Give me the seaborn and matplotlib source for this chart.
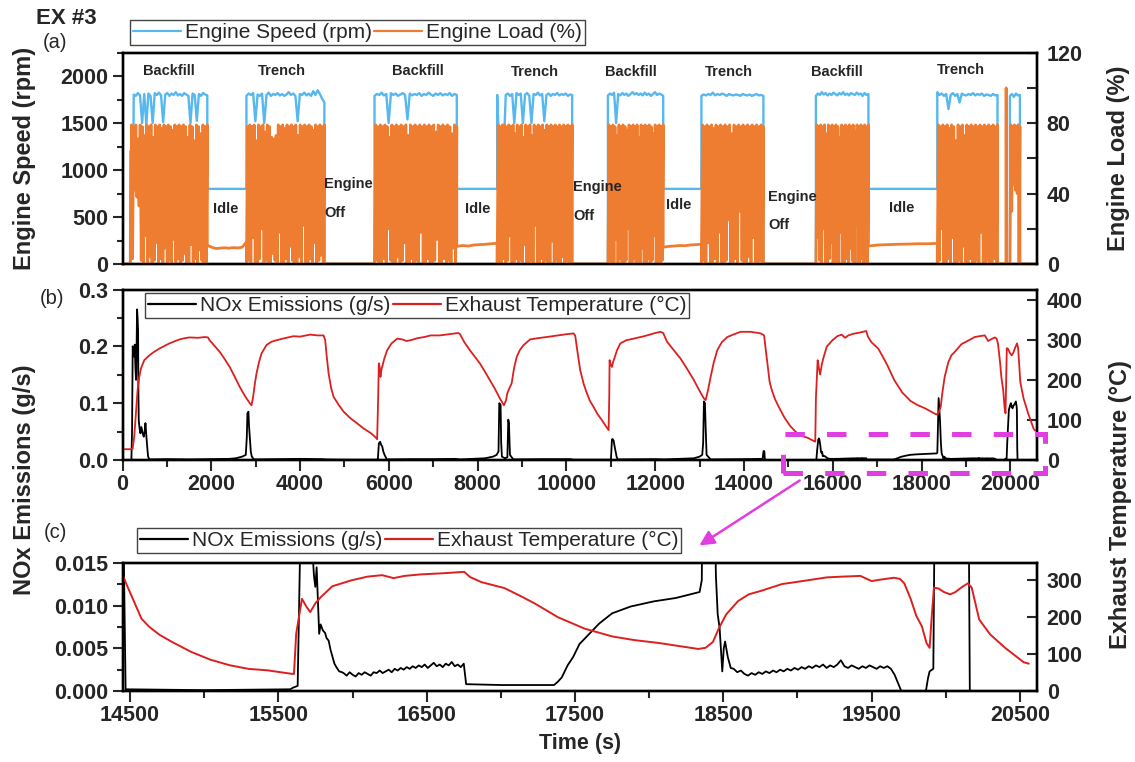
import numpy as np
import matplotlib
matplotlib.use("Agg")
import matplotlib.pyplot as plt
import seaborn as sns
from matplotlib.ticker import MultipleLocator, FormatStrFormatter, FixedLocator
from matplotlib.lines import Line2D
from matplotlib.patches import Rectangle, FancyArrowPatch

# ---------------- data: panel (a) engine speed / load ----------------
work_start = [178, 2792, 5677, 8440, 10935, 13040, 15620, 18354, 19990]
work_end = [1910, 4547, 7530, 10129, 12180, 14437, 16803, 19710, 20215]
speed_start = [253, 2792, 5677, 8440, 10935, 13040, 15620, 18354, 19990]
startup_t = [170, 178, 245]
startup_rpm = [0, 1200, 1200]

speed_B1 = [1805, 1790, 1820, 1795, 1500, 1810, 1485, 1815, 1790, 1500, 1820, 1800,
            1825, 1795, 1510, 1805, 1820, 1790, 1815, 1800, 1830, 1795, 1810, 1790,
            1820, 1805, 1790, 1500, 1815, 1800, 1525, 1810, 1790, 1820, 1805, 1795]
speed_T1 = [1790, 1815, 1800, 1820, 1520, 1805, 1790, 1815, 1500, 1800, 1825, 1790,
            1810, 1800, 1820, 1795, 1810, 1790, 1805, 1830, 1800, 1815, 1790, 1520,
            1810, 1800, 1825, 1795, 1815, 1790, 1840, 1800, 1850, 1810, 1760, 1720]
speed_B2 = [1790, 1810, 1800, 1825, 1795, 1810, 1500, 1820, 1800, 1815, 1790, 1805,
            1820, 1800, 1540, 1815, 1795, 1810, 1800, 1820, 1790, 1810, 1800, 1825,
            1805, 1790, 1815, 1800, 1820, 1795, 1810, 1800, 1820, 1790, 1810, 1800]
speed_T2 = [1800, 1200, 1210, 1190, 1800, 1815, 1790, 1810, 1500, 1820, 1800, 1815,
            1500, 1805, 1820, 1790, 1500, 1810, 1800, 1825, 1795, 1810, 1520, 1800,
            1815, 1790, 1810, 1800, 1820, 1795, 1810, 1800, 1815, 1790, 1805, 1800]
speed_B3 = [1795, 1815, 1800, 1825, 1500, 1810, 1795, 1820, 1800, 1815, 1790, 1810, 1830, 1805,
            1820, 1800, 1815, 1795, 1825, 1800, 1815, 1790, 1810, 1830, 1800, 1815, 1805, 1790]
speed_T3 = [1790, 1805, 1795, 1810, 1800, 1825, 1795, 1810, 1800, 1815, 1805, 1790, 1810, 1800,
            1795, 1805, 1800, 1790, 1810, 1800, 1795, 1805, 1790, 1800, 1810, 1795, 1800, 1790]
speed_B4 = [1790, 1815, 1800, 1830, 1805, 1820, 1795, 1815, 1800, 1825, 1810, 1795, 1820, 1805,
            1830, 1800, 1815, 1795, 1820, 1810, 1800, 1825, 1805, 1815, 1790, 1820, 1800, 1810]
speed_T4 = [1830, 1800, 1815, 1790, 1810, 1650, 1800, 1820, 1790, 1810, 1720, 1815, 1800, 1795,
            1810, 1800, 1820, 1795, 1810, 1800, 1815, 1790, 1805, 1800, 1790, 1810, 1795, 1800]
speed_F = [1790, 1810, 1780, 1815, 1795, 1800]

load_hi_B1 = [79, 78, 79, 71, 79, 78, 73, 79, 78, 79, 72, 79, 78, 79, 77, 79, 78, 79,
              78, 76, 79, 78, 79, 78, 79, 78, 72, 79, 78, 70, 79, 78, 74, 79, 78, 79]
load_lo_B1 = [0, 3, 42, 38, 33, 2, 0, 16, 1, 4, 0, 2, 12, 0, 3, 1, 9, 0,
              2, 0, 14, 1, 3, 0, 2, 6, 0, 1, 11, 0, 3, 0, 8, 2, 0, 1]
load_hi_T1 = [78, 79, 78, 79, 70, 79, 78, 79, 75, 79, 78, 72, 71, 73, 79, 78, 79, 77,
              79, 78, 79, 78, 79, 73, 79, 78, 79, 78, 79, 78, 76, 79, 78, 79, 78, 79]
load_lo_T1 = [0, 2, 0, 15, 1, 0, 3, 20, 0, 2, 1, 0, 6, 2, 0, 18, 1, 0,
              3, 0, 10, 2, 0, 1, 4, 0, 22, 1, 0, 3, 0, 12, 0, 2, 5, 0]
load_hi_B2 = [79, 78, 79, 78, 79, 78, 72, 79, 78, 79, 78, 79, 78, 79, 73, 79, 78, 79,
              78, 79, 78, 79, 78, 79, 78, 79, 75, 79, 78, 79, 78, 79, 78, 74, 79, 78]
load_lo_B2 = [0, 2, 0, 1, 3, 0, 20, 2, 0, 1, 4, 0, 2, 12, 0, 1, 3, 0,
              2, 0, 18, 1, 0, 3, 1, 0, 2, 14, 0, 1, 3, 0, 2, 0, 9, 0]
load_hi_T2 = [79, 78, 79, 79, 78, 79, 78, 79, 74, 79, 78, 79, 72, 79, 78, 79, 73, 79,
              78, 79, 78, 79, 76, 79, 78, 79, 78, 79, 78, 79, 78, 79, 78, 79, 78, 79]
load_lo_T2 = [0, 1, 0, 3, 0, 2, 16, 0, 1, 3, 0, 2, 0, 11, 1, 0, 2, 0,
              22, 1, 0, 3, 0, 2, 1, 0, 13, 0, 2, 0, 1, 4, 0, 2, 0, 1]
load_hi_B3 = [79, 78, 79, 78, 73, 79, 78, 79, 78, 76, 79, 78, 79, 78,
              79, 72, 79, 78, 79, 78, 79, 78, 74, 79, 78, 79, 78, 79]
load_lo_B3 = [0, 2, 0, 1, 14, 0, 3, 1, 0, 2, 20, 0, 1, 3,
              0, 2, 0, 9, 1, 0, 3, 0, 2, 16, 0, 1, 0, 2]
load_hi_T3 = [79, 78, 79, 78, 79, 77, 79, 78, 79, 78, 79, 78, 79, 74,
              79, 78, 79, 78, 79, 78, 79, 78, 79, 78, 79, 78, 79, 78]
load_lo_T3 = [0, 2, 0, 12, 1, 0, 3, 0, 18, 1, 0, 2, 25, 0,
              1, 3, 0, 30, 2, 0, 1, 4, 0, 15, 1, 0, 2, 0]
load_hi_B4 = [79, 78, 79, 78, 79, 74, 79, 78, 79, 78, 79, 78, 72, 79,
              78, 79, 78, 79, 78, 79, 75, 79, 78, 79, 78, 79, 78, 79]
load_lo_B4 = [0, 15, 2, 0, 20, 1, 0, 3, 12, 0, 2, 1, 0, 18,
              1, 0, 3, 0, 9, 2, 0, 22, 1, 0, 3, 0, 1, 0]
load_hi_T4 = [79, 78, 79, 78, 79, 77, 79, 78, 70, 79, 78, 79, 73, 79,
              78, 79, 78, 79, 78, 79, 78, 79, 78, 79, 78, 79, 78, 79]
load_lo_T4 = [0, 2, 20, 0, 1, 3, 0, 15, 1, 0, 2, 0, 10, 1,
              0, 3, 0, 1, 2, 0, 18, 1, 0, 2, 0, 1, 3, 0]
load_hi_F = [79, 78, 79, 78, 79, 78]
load_lo_F = [0, 30, 45, 42, 40, 0]

idle_rpm = 800
idle_load_1 = [10.7, 9.5, 8.8, 9.0, 9.2, 9.0, 9.3, 9.1, 9.5, 12.5]
idle_load_2 = [10.0, 10.5, 10.2, 10.8, 11.0, 11.2, 11.5, 11.8]
idle_load_3 = [9.5, 10.0, 10.2, 10.5, 10.4, 10.8, 11.0, 11.2]
idle_load_4 = [10.2, 10.8, 11.0, 11.2, 11.3, 11.5, 11.5, 11.7]
spike_t = [19900, 19905, 19912]
spike_load = [0, 100, 0]

# ---------------- data: exhaust temperature (deg C) ----------------
temp_t = [0, 226, 264, 302, 340, 377, 415, 490, 604, 700,
          830, 950, 1057, 1150, 1283, 1400, 1509, 1700, 1850, 1925,
          1962, 2080, 2189, 2300, 2415, 2530, 2642, 2760, 2868, 2906,
          2943, 2980, 3019, 3075, 3132, 3245, 3350, 3472, 3650, 3849,
          4000, 4226, 4400, 4528, 4566, 4600, 4642, 4700, 4755, 4870,
          4981, 5130, 5283, 5430, 5585, 5690, 5736, 5760, 5774, 5790,
          5811, 5830, 5849, 5900, 5962, 6060, 6189, 6300, 6400, 6491,
          6642, 6800, 6943, 7146, 7350, 7560, 7598, 7700, 7824, 7940,
          8050, 8160, 8276, 8390, 8502, 8592, 8640, 8668, 8713, 8766,
          8820, 8879, 8950, 9029, 9180, 9350, 9556, 9800, 10000, 10159,
          10197, 10250, 10310, 10390, 10461, 10530, 10611, 10700, 10799, 10880,
          10950, 10965, 10972, 10995, 11025, 11050, 11078, 11140, 11214, 11350,
          11515, 11750, 11967, 12118, 12180, 12268, 12420, 12570, 12720, 12871,
          12990, 13097, 13135, 13190, 13248, 13320, 13398, 13500, 13625, 13800,
          13925, 14151, 14377, 14440, 14454, 14474, 14513, 14577, 14629, 14700,
          14783, 14912, 15041, 15170, 15298, 15427, 15582, 15605, 15620, 15659,
          15690, 15715, 15750, 15787, 15864, 15993, 16100, 16200, 16277, 16350,
          16457, 16600, 16753, 16792, 16870, 17024, 17130, 17230, 17385, 17565,
          17750, 17900, 18068, 18200, 18330, 18380, 18430, 18470, 18520, 18600,
          18671, 18750, 18897, 19000, 19198, 19300, 19424, 19500, 19560, 19650,
          19690, 19720, 19763, 19800, 19839, 19870, 19891, 19905, 19920, 19950,
          19989, 20030, 20064, 20110, 20150, 20175, 20225, 20300, 20400, 20525,
          20560]
temp_v = [27, 27, 58, 117, 175, 208, 229, 250, 262, 270,
          279, 286, 292, 296, 302, 305, 307, 306, 308, 307,
          300, 285, 271, 253, 233, 208, 183, 160, 142, 137,
          158, 190, 217, 245, 267, 288, 296, 300, 305, 310,
          309, 314, 312, 312, 300, 260, 217, 180, 158, 138,
          121, 105, 92, 79, 68, 58, 52, 160, 242, 235,
          208, 225, 233, 255, 275, 292, 304, 302, 298, 300,
          305, 308, 312, 312, 315, 318, 316, 295, 275, 258,
          242, 222, 200, 178, 154, 137, 150, 167, 179, 192,
          230, 258, 275, 287, 302, 305, 308, 312, 315, 317,
          312, 270, 225, 190, 167, 148, 133, 115, 100, 86,
          75, 160, 250, 240, 233, 245, 254, 275, 292, 300,
          304, 310, 317, 321, 318, 296, 275, 254, 228, 200,
          175, 154, 150, 175, 208, 245, 275, 295, 308, 316,
          321, 321, 317, 313, 311, 291, 255, 196, 174, 152,
          133, 106, 85, 70, 60, 56, 47, 46, 155, 250,
          228, 214, 238, 255, 284, 300, 310, 314, 306, 312,
          316, 319, 323, 309, 295, 279, 258, 237, 200, 169,
          148, 138, 130, 122, 114, 117, 133, 170, 208, 244,
          262, 271, 290, 296, 308, 310, 312, 298, 302, 307,
          304, 292, 250, 205, 175, 130, 117, 200, 280, 278,
          268, 262, 268, 282, 292, 280, 194, 153, 117, 78,
          74]

# ---------------- data: NOx emissions (g/s) ----------------
nox_t_a = [0, 200, 215, 230, 245, 260, 276, 292, 306, 318,
           328, 340, 351, 358, 366, 385, 404, 422, 441, 460,
           479, 500, 517, 530, 539, 560, 577, 607, 1000, 1500,
           2000, 2400, 2551, 2700, 2777, 2800, 2814, 2837, 2850, 2867,
           2890, 2912, 2965, 3500, 4000, 4500, 4560, 5000, 5700, 5752,
           5775, 5790, 5805, 5830, 5850, 5875, 5903, 5955, 6500, 7000,
           7500, 7600, 8163, 8350, 8427, 8470, 8487, 8517, 8530, 8547,
           8615, 8670, 8690, 8705, 8728, 8803, 9500, 10100, 10150, 10990,
           11003, 11025, 11040, 11063, 11080, 11101, 11130, 11154, 12000, 12200,
           12871, 13000, 13059, 13080, 13097, 13120, 13135, 13157, 13248, 14000,
           14420, 14440, 14458, 14470, 15000, 15580, 15600, 15630, 15646, 15673,
           15690, 15703, 15720, 15731, 15740, 15749, 15758, 15767, 15775, 15785,
           15800, 15815, 15825, 15839, 15852, 15865, 15878, 15891, 15910, 15929]
nox_v_a = [0.0, 0.0, 0.05, 0.2, 0.19, 0.182, 0.203, 0.16, 0.141, 0.2,
           0.265, 0.25, 0.229, 0.12, 0.07, 0.055, 0.047, 0.058, 0.053, 0.045,
           0.041, 0.05, 0.065, 0.05, 0.041, 0.02, 0.006, 0.001, 0.0015, 0.001,
           0.0015, 0.002, 0.003, 0.006, 0.009, 0.04, 0.082, 0.085, 0.06, 0.041,
           0.015, 0.006, 0.001, 0.0015, 0.002, 0.0015, 0.001, 0.0005, 0.0005, 0.001,
           0.029, 0.031, 0.032, 0.026, 0.024, 0.015, 0.009, 0.001, 0.0015, 0.0015,
           0.002, 0.001, 0.003, 0.006, 0.009, 0.015, 0.1, 0.097, 0.03, 0.006,
           0.003, 0.005, 0.071, 0.065, 0.009, 0.001, 0.0015, 0.0015, 0.0005, 0.0005,
           0.002, 0.036, 0.037, 0.034, 0.026, 0.018, 0.006, 0.001, 0.0015, 0.001,
           0.003, 0.006, 0.009, 0.03, 0.103, 0.1, 0.06, 0.009, 0.001, 0.0015,
           0.002, 0.0158, 0.0155, 0.0002, 0.0001, 0.0002, 0.0004, 0.0006, 0.016, 0.036,
           0.038, 0.034, 0.025, 0.016, 0.0135, 0.0122, 0.0145, 0.0105, 0.0067, 0.0078,
           0.0071, 0.0068, 0.0062, 0.0059, 0.0048, 0.004, 0.0032, 0.0028, 0.0023, 0.0022]
nox_jit1_span = [15940, 16750]
nox_jit1 = [0.0021, 0.0018, 0.0022, 0.0019, 0.0017, 0.0021, 0.0019, 0.0022, 0.0020, 0.0018,
            0.0022, 0.0021, 0.0024, 0.0021, 0.0023, 0.0025, 0.0022, 0.0026, 0.0024, 0.0027,
            0.0025, 0.0028, 0.0026, 0.0029, 0.0027, 0.0030, 0.0028, 0.0031, 0.0027, 0.0030,
            0.0033, 0.0029, 0.0031, 0.0028, 0.0032, 0.0030, 0.0034, 0.0029, 0.0031, 0.0028,
            0.0032]
nox_t_b = [16766, 17000, 17359, 17385, 17411, 17450, 17488, 17530, 17591, 17663,
           17750, 17875, 18030, 18180, 18340, 18355, 18370, 18384, 18400, 18415,
           18435, 18450, 18462, 18475, 18485, 18493, 18503, 18512, 18530, 18550]
nox_v_b = [0.0008, 0.0007, 0.0007, 0.0011, 0.0016, 0.003, 0.004, 0.0055, 0.0066, 0.0079,
           0.0091, 0.0099, 0.0105, 0.0109, 0.0116, 0.013, 0.06, 0.109, 0.09, 0.07,
           0.03, 0.0135, 0.009, 0.0074, 0.0045, 0.0023, 0.005, 0.0058, 0.004, 0.0027]
nox_jit2_span = [18570, 19630]
nox_jit2 = [0.0026, 0.0022, 0.0024, 0.0020, 0.0018, 0.0021, 0.0019, 0.0022, 0.0020, 0.0023,
            0.0021, 0.0024, 0.0022, 0.0025, 0.0023, 0.0026, 0.0024, 0.0027, 0.0025, 0.0028,
            0.0026, 0.0029, 0.0027, 0.0030, 0.0028, 0.0031, 0.0027, 0.0030, 0.0028, 0.0031,
            0.0036, 0.0029, 0.0027, 0.0030, 0.0028, 0.0026, 0.0029, 0.0027, 0.0030, 0.0028,
            0.0026, 0.0029, 0.0027, 0.0029, 0.0026]
nox_t_c = [19655, 19693, 19700, 19866, 19880, 19891, 19916, 19929, 19966, 19990,
           20011, 20030, 20049, 20070, 20087, 20105, 20124, 20140, 20147, 20155,
           20162, 20600]
nox_v_c = [0.0019, 0.0003, 0.0, 0.0, 0.0015, 0.0023, 0.0026, 0.03, 0.088, 0.095,
           0.1, 0.094, 0.091, 0.096, 0.097, 0.1, 0.103, 0.095, 0.088, 0.02,
           0.0, 0.0]

a_labels = ["Engine Speed (rpm)", "Engine Load (%)"]
bc_labels = ["NOx Emissions (g/s)", "Exhaust Temperature (\u00b0C)"]
c_xticks = [14500, 15500, 16500, 17500, 18500, 19500, 20500]

# ---------------- assemble series ----------------
speed_blocks = [speed_B1, speed_T1, speed_B2, speed_T2, speed_B3, speed_T3, speed_B4, speed_T4, speed_F]
load_hi = [load_hi_B1, load_hi_T1, load_hi_B2, load_hi_T2, load_hi_B3, load_hi_T3, load_hi_B4, load_hi_T4, load_hi_F]
load_lo = [load_lo_B1, load_lo_T1, load_lo_B2, load_lo_T2, load_lo_B3, load_lo_T3, load_lo_B4, load_lo_T4, load_lo_F]
idle_loads = [idle_load_1, idle_load_2, idle_load_3, idle_load_4]

load_t, load_v = [0.0, 170.0], [0.0, 0.0]
spd_t, spd_v = [0.0] + startup_t, [0.0] + startup_rpm
for k in range(9):
    ws, we = work_start[k], work_end[k]
    n = len(load_hi[k])
    tt = np.linspace(ws, we, 2 * n)
    vv = np.empty(2 * n)
    vv[0::2] = load_lo[k]
    vv[1::2] = load_hi[k]
    load_t += list(tt)
    load_v += list(vv)
    st = np.linspace(speed_start[k], we, len(speed_blocks[k]))
    spd_t += list(st)
    spd_v += list(speed_blocks[k])
    nxt = work_start[k + 1] if k < 8 else 20600
    if k in (0, 2, 4, 6):
        il = idle_loads[k // 2]
        load_t += list(np.linspace(we, nxt, len(il)))
        load_v += list(il)
        spd_t += [we, nxt]
        spd_v += [idle_rpm, idle_rpm]
    else:
        load_t += [we]
        load_v += [0]
        if k == 7:
            load_t += spike_t
            load_v += spike_load
        load_t += [nxt]
        load_v += [0]
        spd_t += [we, nxt]
        spd_v += [0, 0]

nox_t = np.array(nox_t_a + list(np.linspace(*nox_jit1_span, len(nox_jit1))) + nox_t_b
                 + list(np.linspace(*nox_jit2_span, len(nox_jit2))) + nox_t_c, dtype=float)
nox_v = np.array(nox_v_a + nox_jit1 + nox_v_b + nox_jit2 + nox_v_c, dtype=float)
temp_t_arr = np.array(temp_t, dtype=float)
temp_v_arr = np.array(temp_v, dtype=float)

# ---------------- styling ----------------
sns.set_style("ticks")
plt.rcParams["font.family"] = ["Liberation Sans", "DejaVu Sans"]
plt.rcParams["font.weight"] = "bold"
plt.rcParams["axes.labelweight"] = "bold"
plt.rcParams["lines.scale_dashes"] = False

BLUE = "#56b8ee"
ORANGE = "#ee7d31"
RED = "#dc1f1f"
BLACK = "#000000"
MAGENTA = "#e03ee0"
TICK_FS = 15.5
LAB_FS = 17
LEG_FS = 15

W, H = 1135, 762
fig = plt.figure(figsize=(W / 100, H / 100), dpi=100)


def box(x0, ytop, x1, ybot):
    return [x0 / W, 1 - ybot / H, (x1 - x0) / W, (ybot - ytop) / H]


ax_a = fig.add_axes(box(122.5, 52.7, 1037, 264))
ax_b = fig.add_axes(box(122.5, 289.5, 1037, 460))
ax_c = fig.add_axes(box(122.5, 563, 1037, 691))


def style_axes(ax):
    for s in ax.spines.values():
        s.set_linewidth(1.7)
        s.set_color("black")
        s.set_visible(True)


def line(ax, x, y, color, lw):
    sns.lineplot(x=x, y=y, ax=ax, color=color, linewidth=lw, estimator=None,
                 sort=False, legend=False)


# ---- panel (a)
line(ax_a, np.array(spd_t, dtype=float), np.array(spd_v, dtype=float), BLUE, 1.7)
ax_a2 = ax_a.twinx()
line(ax_a2, np.array(load_t, dtype=float), np.array(load_v, dtype=float), ORANGE, 2.0)
ax_a.set_xlim(0, 20600)
ax_a.set_ylim(0, 2250)
ax_a2.set_ylim(0, 120)
ax_a.yaxis.set_major_locator(MultipleLocator(500))
ax_a.yaxis.set_minor_locator(MultipleLocator(250))
ax_a2.yaxis.set_major_locator(MultipleLocator(40))
ax_a2.yaxis.set_minor_locator(MultipleLocator(20))
for ax in (ax_a, ax_a2):
    ax.set_xlabel("")
    ax.set_ylabel("")
    ax.tick_params(axis="x", which="both", bottom=False, top=False, labelbottom=False)
    style_axes(ax)
ax_a.tick_params(axis="y", which="major", direction="out", length=7, width=1.5, labelsize=TICK_FS, pad=3)
ax_a.tick_params(axis="y", which="minor", direction="out", length=4, width=1.5)
ax_a2.tick_params(axis="y", which="major", direction="in", length=7, width=1.5, labelsize=TICK_FS, pad=7)
ax_a2.tick_params(axis="y", which="minor", direction="in", length=7, width=1.5)

# annotations in panel (a)
ann_big = [("Backfill", 1047, 2055), ("Trench", 3593, 2055), ("Backfill", 6657, 2055),
           ("Trench", 9292, 2044), ("Backfill", 11455, 2044), ("Trench", 13662, 2044),
           ("Backfill", 16095, 2044), ("Trench", 18888, 2071),
           ("Idle", 2331, 586), ("Idle", 8008, 586), ("Idle", 12536, 628), ("Idle", 17559, 596)]
for txt, x, y in ann_big:
    ax_a2.text(x, y, txt, transform=ax_a.transData, ha="center", va="center",
               fontsize=10.5, fontweight="bold", zorder=10)
ann_left = [("Engine", 4539, 852), ("Off", 4539, 543), ("Engine", 10148, 815),
            ("Off", 10148, 511), ("Engine", 14541, 713), ("Off", 14541, 415)]
for txt, x, y in ann_left:
    ax_a2.text(x, y, txt, transform=ax_a.transData, ha="left", va="center",
               fontsize=10.5, fontweight="bold", zorder=10)

# ---- panel (b)
line(ax_b, nox_t, nox_v, BLACK, 1.3)
ax_b2 = ax_b.twinx()
line(ax_b2, temp_t_arr, temp_v_arr, RED, 1.3)
ax_b.set_xlim(0, 20600)
ax_b.set_ylim(0, 0.3)
ax_b2.set_ylim(0, 427)
ax_b.xaxis.set_major_locator(MultipleLocator(2000))
ax_b.xaxis.set_minor_locator(MultipleLocator(1000))
ax_b.yaxis.set_major_locator(MultipleLocator(0.1))
ax_b.yaxis.set_minor_locator(MultipleLocator(0.05))
ax_b.yaxis.set_major_formatter(FormatStrFormatter("%.1f"))
ax_b2.yaxis.set_major_locator(MultipleLocator(100))

# ---- panel (c)
line(ax_c, nox_t, nox_v, BLACK, 1.3)
ax_c2 = ax_c.twinx()
line(ax_c2, temp_t_arr, temp_v_arr, RED, 1.4)
ax_c.set_xlim(14449, 20615)
ax_c.set_ylim(0, 0.015)
ax_c2.set_ylim(0, 347)
ax_c.xaxis.set_major_locator(FixedLocator(c_xticks))
ax_c.xaxis.set_minor_locator(MultipleLocator(500))
ax_c.yaxis.set_major_locator(MultipleLocator(0.005))
ax_c.yaxis.set_minor_locator(MultipleLocator(0.0025))
ax_c.yaxis.set_major_formatter(FormatStrFormatter("%.3f"))
ax_c2.yaxis.set_major_locator(MultipleLocator(100))

for ax, ax2 in ((ax_b, ax_b2), (ax_c, ax_c2)):
    for a in (ax, ax2):
        a.set_xlabel("")
        a.set_ylabel("")
        style_axes(a)
    ax.tick_params(axis="x", which="major", direction="out", length=8, width=1.5,
                   labelsize=TICK_FS, pad=2, top=False)
    ax.tick_params(axis="x", which="minor", direction="out", length=5, width=1.5, top=False)
    ax.tick_params(axis="y", which="major", direction="out", length=7, width=1.5,
                   labelsize=TICK_FS, pad=3)
    ax.tick_params(axis="y", which="minor", direction="out", length=4, width=1.5)
    ax2.tick_params(axis="y", which="major", direction="in", length=7, width=1.5,
                    labelsize=TICK_FS, pad=7)

# ---------------- legends ----------------
def add_legend(ax, handles, labels, x_px, y_px):
    leg = ax.legend(handles, labels, loc="upper left", bbox_to_anchor=(x_px / W, 1 - y_px / H),
                    bbox_transform=fig.transFigure, ncol=2, frameon=True, fancybox=False,
                    edgecolor="#444444", framealpha=1.0, prop={"size": LEG_FS, "weight": "normal"},
                    handlelength=2.3, handletextpad=0.2, columnspacing=0.1, borderpad=0.15,
                    borderaxespad=0.0)
    leg.get_frame().set_linewidth(1.0)
    leg.set_zorder(20)
    return leg


add_legend(ax_a2, [Line2D([], [], color=BLUE, lw=1.6), Line2D([], [], color=ORANGE, lw=1.6)],
           a_labels, 130, 20)
add_legend(ax_b2, [Line2D([], [], color=BLACK, lw=1.6), Line2D([], [], color=RED, lw=1.6)],
           bc_labels, 145, 293)
add_legend(ax_c2, [Line2D([], [], color=BLACK, lw=1.6), Line2D([], [], color=RED, lw=1.6)],
           bc_labels, 137, 528)

# ---------------- axis labels & panel tags ----------------
fig.text(25 / W, 1 - 158 / H, "Engine Speed (rpm)", rotation=90, ha="center", va="center",
         fontsize=LAB_FS, fontweight="bold")
fig.text(1118 / W, 1 - 158 / H, "Engine Load (%)", rotation=90, ha="center", va="center",
         fontsize=LAB_FS, fontweight="bold")
fig.text(25 / W, 1 - 480 / H, "NOx Emissions (g/s)", rotation=90, ha="center", va="center",
         fontsize=LAB_FS, fontweight="bold")
fig.text(1121 / W, 1 - 505 / H, "Exhaust Temperature (\u00b0C)", rotation=90, ha="center",
         va="center", fontsize=LAB_FS, fontweight="bold")
fig.text(580 / W, 1 - 743 / H, "Time (s)", ha="center", va="center", fontsize=15.5,
         fontweight="bold")
fig.text(36 / W, 1 - 18 / H, "EX #3", ha="left", va="center", fontsize=16, fontweight="bold")
fig.text(55 / W, 1 - 42 / H, "(a)", ha="center", va="center", fontsize=14.5, fontweight="normal")
fig.text(52 / W, 1 - 298 / H, "(b)", ha="center", va="center", fontsize=14.5, fontweight="normal")
fig.text(55 / W, 1 - 533 / H, "(c)", ha="center", va="center", fontsize=14.5, fontweight="normal")

# ---------------- zoom box and arrow ----------------
rect = Rectangle((783 / W, 1 - 473 / H), (1045 - 783) / W, (473 - 434) / H,
                 transform=fig.transFigure, fill=False, edgecolor=MAGENTA, linewidth=3.6,
                 linestyle=(0, (14, 16)), clip_on=False, zorder=30)
fig.add_artist(rect)
arrow = FancyArrowPatch((802 / W, 1 - 479 / H), (697 / W, 1 - 547 / H), transform=fig.transFigure,
                        arrowstyle="-|>", mutation_scale=22, color=MAGENTA, linewidth=1.8,
                        zorder=30)
fig.add_artist(arrow)

fig.savefig("out.png", dpi=100)
